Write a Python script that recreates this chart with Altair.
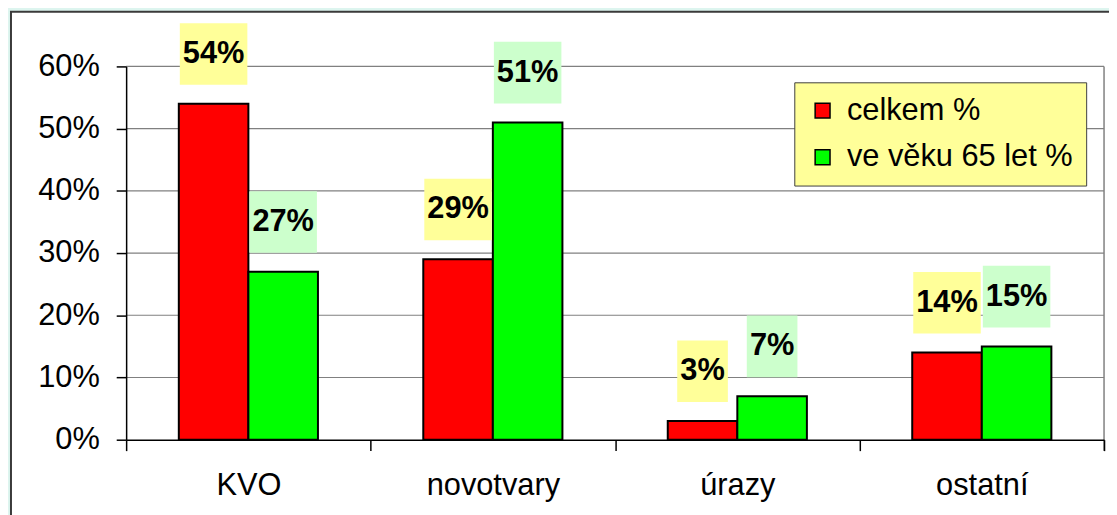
import altair as alt
import pandas as pd

categories = ["KVO", "novotvary", "úrazy", "ostatní"]
series_names = ["celkem %", "ve věku 65 let %"]
celkem = [0.54, 0.29, 0.03, 0.14]
vek65 = [0.27, 0.51, 0.07, 0.15]
y_ticks = [0.0, 0.1, 0.2, 0.3, 0.4, 0.5, 0.6]

rows = []
for s, vals in zip(series_names, [celkem, vek65]):
    for c, v in zip(categories, vals):
        rows.append({"kat": c, "serie": s, "hodnota": v})
df = pd.DataFrame(rows)
grid_df = pd.DataFrame({"t": y_ticks[1:]})
one = pd.DataFrame({"a": [0]})

FONT = "Liberation Sans"
FS = 31
W, H = 985, 376
LABEL_UP = 0.08

x_enc = alt.X(
    "kat:N", sort=categories,
    scale=alt.Scale(paddingInner=0, paddingOuter=0),
    axis=alt.Axis(title=None, labelAngle=0, labelFontSize=FS, labelFont=FONT,
                  labelColor="black", labelPadding=20, tickBand="extent",
                  tickSize=11, tickColor="black", tickWidth=1.5,
                  domainColor="black", domainWidth=1.5, grid=False, zindex=1),
)
xo_enc = alt.XOffset("serie:N", sort=series_names,
                     scale=alt.Scale(paddingOuter=0.757, paddingInner=0))
y_scale = alt.Scale(domain=[0, 0.6], nice=False)
y_axis = alt.Axis(title=None, values=y_ticks, format=".0%", labelFontSize=FS,
                  labelFont=FONT, labelColor="black", labelPadding=17,
                  tickSize=10, tickColor="black", tickWidth=1.5,
                  domainColor="black", domainWidth=1.5, grid=False, zindex=1)

panel = alt.Chart(one).mark_rect(fill="white", stroke="#3a3a3a", strokeWidth=2).encode(
    x=alt.value(-116), x2=alt.value(1010), y=alt.value(-55), y2=alt.value(480)
)

grid = alt.Chart(grid_df).mark_rule(color="#808080", strokeWidth=1.2).encode(
    y=alt.Y("t:Q", scale=y_scale, axis=y_axis)
)

right_border = alt.Chart(one).mark_rule(color="#808080", strokeWidth=1.5).encode(
    x=alt.value(W), y=alt.value(0), y2=alt.value(H + 11)
)

base = alt.Chart(df)

bars = base.mark_bar(stroke="black", strokeWidth=2).encode(
    x=x_enc, xOffset=xo_enc,
    y=alt.Y("hodnota:Q", scale=y_scale, axis=y_axis),
    color=alt.Color(
        "serie:N", sort=series_names,
        scale=alt.Scale(domain=series_names, range=["#ff0000", "#00ff00"]),
        legend=alt.Legend(title=None, orient="none", legendX=673, legendY=16,
                          fillColor="#ffff99", strokeColor="#404040",
                          padding=13, labelFontSize=FS, labelFont=FONT,
                          labelColor="black", labelLimit=0, symbolType="square",
                          symbolSize=225, symbolStrokeColor="black",
                          symbolStrokeWidth=1.5, rowPadding=15, labelOffset=9),
    ),
)

box_color = alt.condition(alt.datum.serie == series_names[0],
                          alt.value("#ffff99"), alt.value("#ccffcc"))

labeled = base.transform_calculate(ly=f"datum.hodnota + {LABEL_UP}")

LONG_BOX = "M-1.097,-1L1.097,-1L1.097,1L-1.097,1Z"
SHORT_BOX = "M-0.823,-1L0.823,-1L0.823,1L-0.823,1Z"

box_long = labeled.transform_filter("datum.hodnota >= 0.1").mark_point(
    shape=LONG_BOX, size=3844, filled=True, opacity=1, strokeWidth=0
).encode(x=x_enc, xOffset=xo_enc, y=alt.Y("ly:Q", scale=y_scale, axis=y_axis),
         color=box_color)

box_short = labeled.transform_filter("datum.hodnota < 0.1").mark_point(
    shape=SHORT_BOX, size=3844, filled=True, opacity=1, strokeWidth=0
).encode(x=x_enc, xOffset=xo_enc, y=alt.Y("ly:Q", scale=y_scale, axis=y_axis),
         color=box_color)

texts = labeled.mark_text(fontSize=FS, fontWeight="bold", font=FONT,
                          baseline="middle", color="black").encode(
    x=x_enc, xOffset=xo_enc,
    y=alt.Y("ly:Q", scale=y_scale, axis=y_axis),
    text=alt.Text("hodnota:Q", format=".0%"),
)

chart = alt.layer(panel, grid, right_border, bars, box_long, box_short, texts).properties(
    width=W, height=H,
    padding={"left": 119, "top": 57, "right": 5, "bottom": 74},
    autosize=alt.AutoSizeParams(type="none"),
    background="#ddf5ef",
).configure_view(stroke=None)

chart.save("out.html", embed_options={"renderer": "svg", "actions": False})
